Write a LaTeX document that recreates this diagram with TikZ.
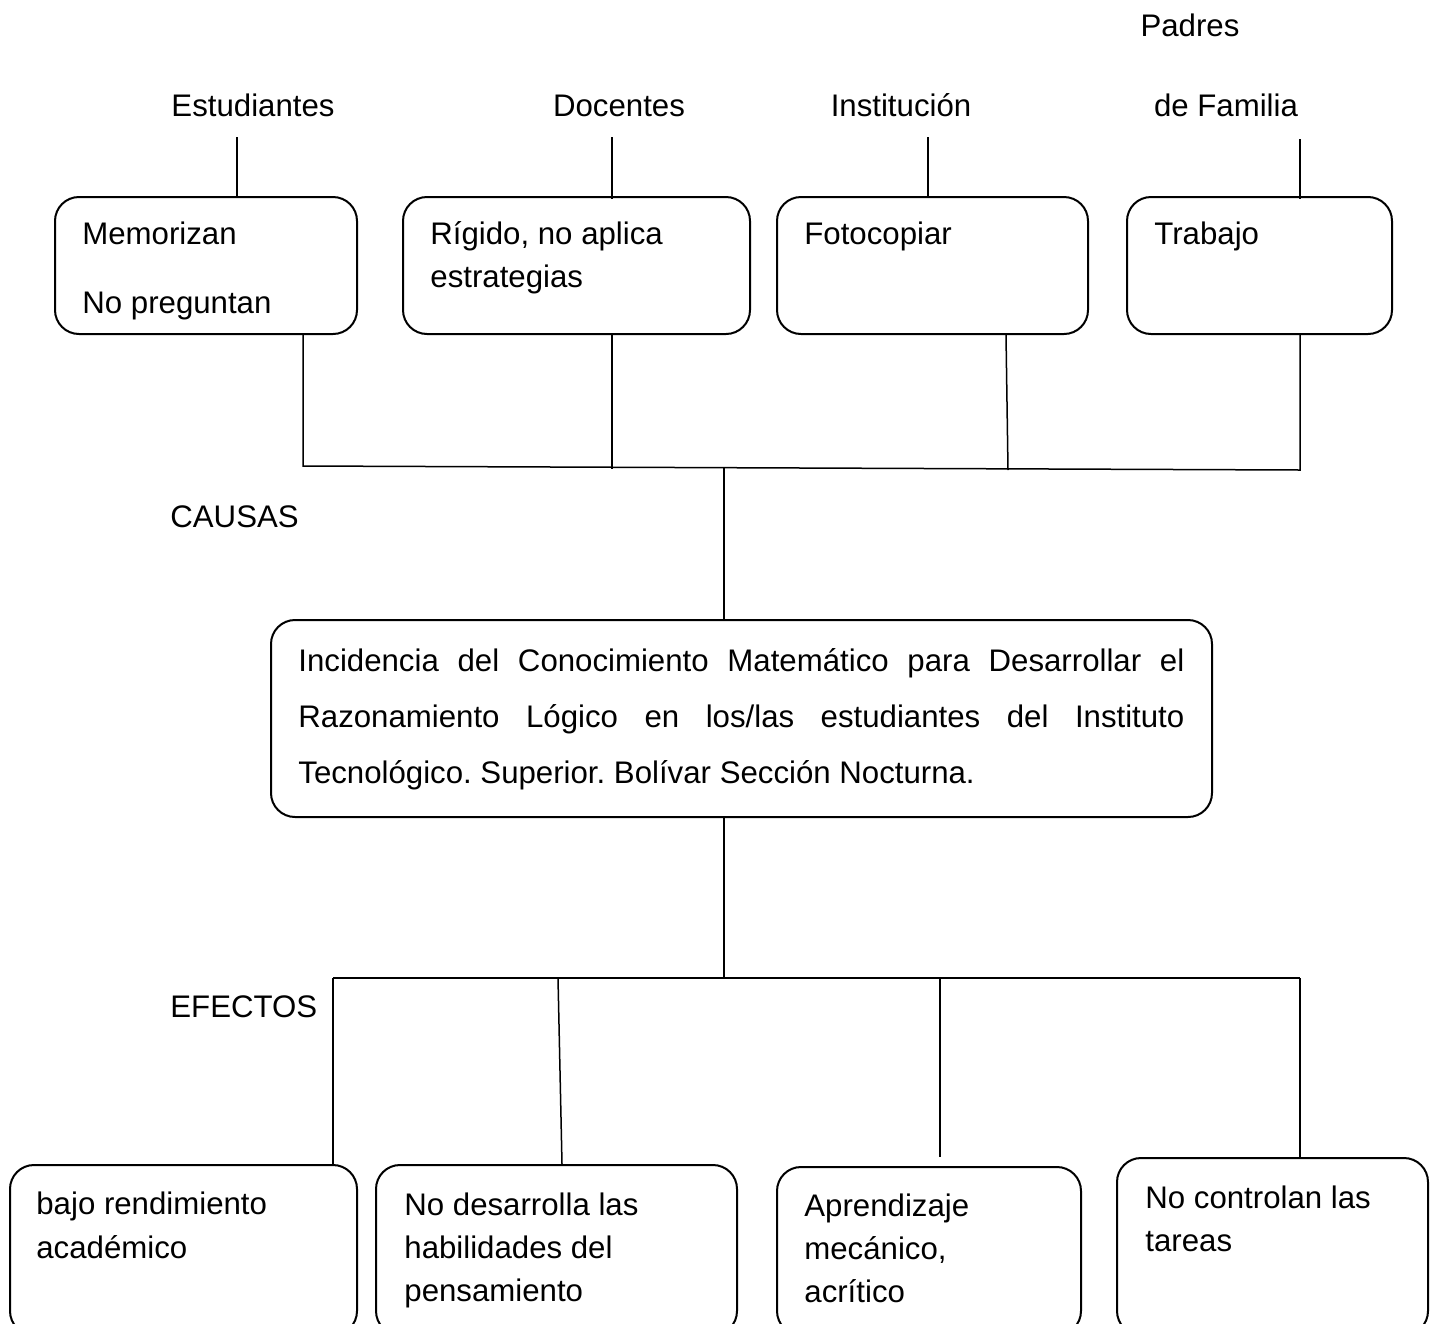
\documentclass[tikz,border=0pt]{standalone}
\usepackage{fontspec}
\setmainfont{Liberation Sans}
\usetikzlibrary{calc}
\frenchspacing
\begin{document}
\begin{tikzpicture}[x=0.5pt,y=-0.5pt,
  box/.style={draw,line width=1pt,rounded corners=12pt,inner sep=0pt},
  lbl/.style={anchor=base west,inner sep=0pt,font=\fontsize{15.6}{18}\selectfont},
  hdr/.style={anchor=base,inner sep=0pt,font=\fontsize{15.6}{18}\selectfont},
  link/.style={line width=0.75pt}]
\useasboundingbox (0,0) rectangle (1434,1323);
\clip (0,0) rectangle (1434,1323);

% headers
\node[hdr] (h1) at (253,116) {Estudiantes};
\node[hdr] (h2) at (619,116) {Docentes};
\node[hdr] (h3) at (901,116) {Institución};
\node[hdr] (h4a) at (1190,36) {Padres};
\node[hdr] (h4) at (1226,116) {de Familia};

% cause boxes
\node[box,minimum width=151pt,minimum height=68.5pt] (c1) at (206,265.5) {};
\node[box,minimum width=173.5pt,minimum height=68.5pt] (c2) at (576.5,265.5) {};
\node[box,minimum width=155.5pt,minimum height=68.5pt] (c3) at (932.5,265.5) {};
\node[box,minimum width=132.5pt,minimum height=68.5pt] (c4) at (1259.5,265.5) {};

\node[lbl] (c1a) at (82,244) {Memorizan};
\node[lbl] (c1b) at (82,313) {No preguntan};
\node[lbl] (c2a) at (430,244) {Rígido, no aplica};
\node[lbl] (c2b) at (430,287) {estrategias};
\node[lbl] (c3a) at (804,244) {Fotocopiar};
\node[lbl] (c4a) at (1154,244) {Trabajo};

% lines from headers
\coordinate (t1) at (237,137);
\coordinate (t2) at (612,137);
\coordinate (t3) at (928,137);
\coordinate (t4) at (1300,139);
\draw[link] (t1) -- (t1 |- c1.north);
\draw[link] (t2) -- ($(t2 |- c2.north)+(0,3)$);
\draw[link] (t3) -- (t3 |- c3.north);
\draw[link] (t4) -- ($(t4 |- c4.north)+(0,3)$);

% causes bus
\coordinate (k1) at (303,466);
\coordinate (k2) at (612,469);
\coordinate (k3) at (1008,470);
\coordinate (k4) at (1300,470);
\coordinate (k0) at (724,467);
\draw[link] (k1 |- c1.south) -- (k1) -- (k4) -- (k4 |- c4.south);
\draw[link] (k2 |- c2.south) -- (k2);
\draw[link] ($(k3 |- c3.south)+(-2,0)$) -- (k3);

\node[lbl] (causas) at (170,527) {CAUSAS};

% central box
\node[box,minimum width=470.5pt,minimum height=98.5pt] (m) at (741.5,718.5) {};
\draw[link] (k0) -- (k0 |- m.north);
\node[lbl] (m1) at (298,671) {\makebox[443pt][s]{Incidencia del Conocimiento Matemático para Desarrollar el}};
\node[lbl] (m2) at (298,727) {\makebox[443pt][s]{Razonamiento Lógico en los/las estudiantes del Instituto}};
\node[lbl] (m3) at (298,783) {Tecnológico. Superior. Bolívar Sección Nocturna.};

% effects bus
\coordinate (e0) at (724,978);
\coordinate (e1) at (333,978);
\coordinate (e2) at (558,978);
\coordinate (e3) at (940,978);
\coordinate (e4) at (1300,978);
\draw[link] (m.south -| e0) -- (e0);
\draw[link] (e1) -- (e4);

\node[lbl] (efectos) at (170,1017) {EFECTOS};

% effect boxes
\node[box,minimum width=173.5pt,minimum height=85pt] (f1) at (183.5,1250) {};
\node[box,minimum width=180.5pt,minimum height=85pt] (f2) at (556.5,1250) {};
\node[box,minimum width=152pt,minimum height=84pt] (f3) at (929,1251) {};
\node[box,minimum width=155.5pt,minimum height=88.5pt] (f4) at (1272.5,1246.5) {};

\draw[link] (e1) -- (e1 |- f1.north);
\draw[link] (e2) -- ($(e2 |- f2.north)+(4,0)$);
\draw[link] (e3) -- ($(e3 |- f3.north)+(0,-9)$);
\draw[link] (e4) -- (e4 |- f4.north);

\node[lbl] (f1a) at (36,1214) {bajo rendimiento};
\node[lbl] (f1b) at (36,1258) {académico};
\node[lbl] (f2a) at (404,1215) {No desarrolla las};
\node[lbl] (f2b) at (404,1258) {habilidades del};
\node[lbl] (f2c) at (404,1301) {pensamiento};
\node[lbl] (f3a) at (804,1216) {Aprendizaje};
\node[lbl] (f3b) at (804,1259) {mecánico,};
\node[lbl] (f3c) at (804,1302) {acrítico};
\node[lbl] (f4a) at (1145,1208) {No controlan las};
\node[lbl] (f4b) at (1145,1251) {tareas};
\end{tikzpicture}
\end{document}
